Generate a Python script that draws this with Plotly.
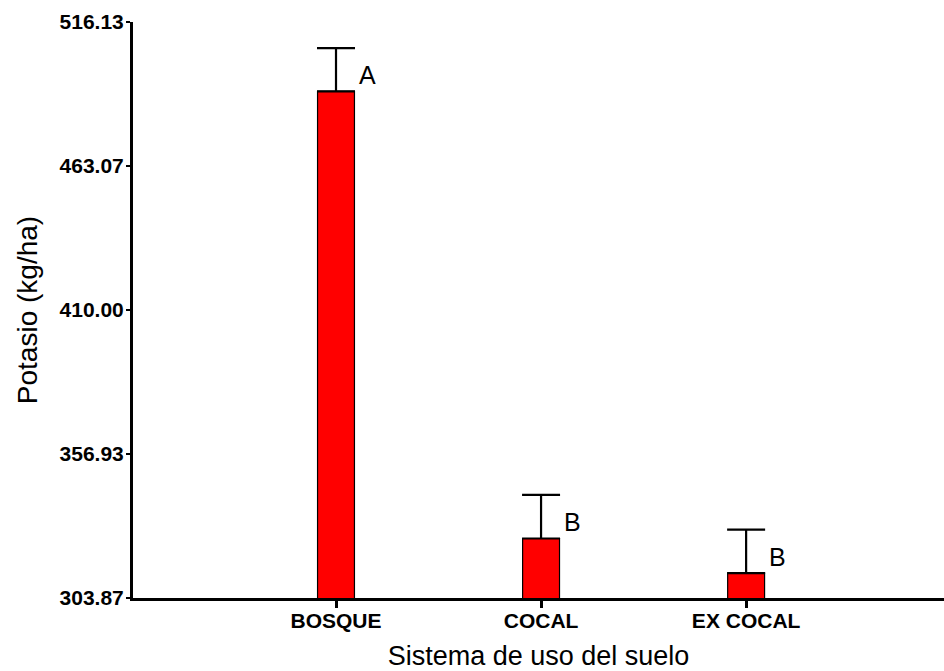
import plotly.graph_objects as go

categories = ["BOSQUE", "COCAL", "EX COCAL"]
potasio = [490.6, 325.8, 313.0]
error_up = [15.9, 16.1, 16.1]
letters = ["A", "B", "B"]
y_ticks = [303.87, 356.93, 410.00, 463.07, 516.13]
y_tick_labels = ["303.87", "356.93", "410.00", "463.07", "516.13"]

fig = go.Figure()
fig.add_trace(go.Bar(
    x=list(range(len(categories))),
    y=potasio,
    width=0.18,
    marker=dict(color="#FF0000", line=dict(color="black", width=1.2)),
    error_y=dict(type="data", array=error_up, arrayminus=[0] * len(error_up),
                 symmetric=False, color="black", thickness=2.2, width=19),
    showlegend=False,
))

for i, (v, t) in enumerate(zip(potasio, letters)):
    fig.add_annotation(x=i, y=v, text=t, showarrow=False, xshift=31, yshift=16,
                       font=dict(family="Liberation Sans, Arial", size=25, color="black"))

fig.update_layout(
    width=944, height=671,
    margin=dict(l=133, r=0, t=22, b=73),
    plot_bgcolor="white", paper_bgcolor="white",
    font=dict(family="Liberation Sans, Arial", color="black"),
)
fig.update_xaxes(
    range=[-0.99, 2.965],
    tickmode="array", tickvals=list(range(len(categories))), ticktext=categories,
    tickfont=dict(size=21, family="Liberation Sans, Arial", weight="bold"),
    ticklabelstandoff=-5,
    showline=True, linecolor="black", linewidth=3,
    ticks="outside", ticklen=7, tickwidth=2.5, tickcolor="black",
    showgrid=False, zeroline=False,
    title=dict(text="Sistema de uso del suelo", font=dict(size=27), standoff=16),
)
fig.update_yaxes(
    range=[303.87, 516.13],
    tickmode="array", tickvals=y_ticks, ticktext=y_tick_labels,
    tickfont=dict(size=21, family="Liberation Sans, Arial", weight="bold"),
    ticklabelstandoff=-2,
    showline=True, linecolor="black", linewidth=3,
    ticks="outside", ticklen=4, tickwidth=2, tickcolor="black",
    showgrid=False, zeroline=False,
    title=dict(text="Potasio (kg/ha)", font=dict(size=28), standoff=14),
)

fig.write_html(
    "out.html",
    config={"displayModeBar": False},
    post_script="document.body.style.margin='0';document.body.style.overflow='hidden';",
)
